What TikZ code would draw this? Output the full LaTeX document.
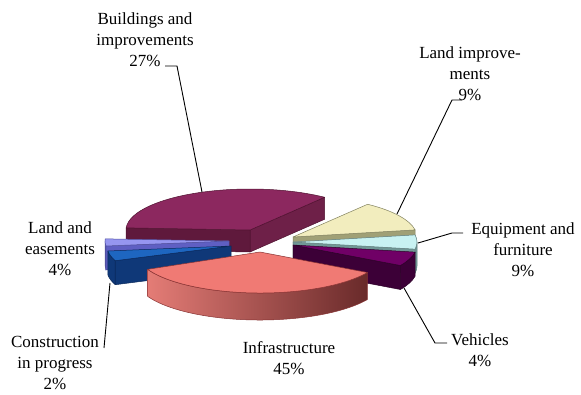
\documentclass[tikz,border=0pt]{standalone}
\usepackage{fontspec}
\setmainfont{Liberation Serif}
\usetikzlibrary{calc}
\definecolor{bTop}{RGB}{140,40,95}
\definecolor{bSide}{RGB}{95,25,60}
\definecolor{bSideR}{RGB}{110,32,72}
\definecolor{bEdge}{RGB}{80,18,48}
\definecolor{liTop}{RGB}{242,237,190}
\definecolor{liSide}{RGB}{160,160,118}
\definecolor{liEdge}{RGB}{130,130,95}
\definecolor{eqTop}{RGB}{200,242,242}
\definecolor{eqSide}{RGB}{112,152,150}
\definecolor{eqEdge}{RGB}{95,125,125}
\definecolor{vTop}{RGB}{112,0,102}
\definecolor{vSide}{RGB}{60,0,55}
\definecolor{vEdge}{RGB}{45,0,40}
\definecolor{inTop}{RGB}{240,122,116}
\definecolor{inSideL}{RGB}{228,124,118}
\definecolor{inSideM}{RGB}{196,98,92}
\definecolor{inSideR}{RGB}{105,42,42}
\definecolor{inEdge}{RGB}{135,50,50}
\definecolor{cTop}{RGB}{30,102,192}
\definecolor{cSide}{RGB}{15,56,120}
\definecolor{cEdge}{RGB}{10,40,90}
\definecolor{leTop}{RGB}{150,150,240}
\definecolor{leSide}{RGB}{95,95,195}
\definecolor{leEdge}{RGB}{80,80,160}
\tikzset{
  lbl/.style={font=\rmfamily\fontsize{17}{21}\selectfont, align=center, inner sep=0pt},
  leader/.style={draw=black, line width=0.9pt},
  face/.style={line width=0.5pt, line join=round}
}
\begin{document}
\begin{tikzpicture}[x=1pt,y=-1pt]
\fill[white] (0,0) rectangle (581,394);
\useasboundingbox (0,0) rectangle (581,394);

% Buildings and improvements
\begin{scope}[shift={(250,230)}]
  \filldraw[face, fill=bSideR, draw=bEdge] (0,0) -- (-53:124 and 41) -- ++(0,22) -- (0,22) -- cycle;
  \filldraw[face, fill=bSide, draw=bEdge] (0,0) -- (-177:124 and 41) -- ++(0,22) -- (0,22) -- cycle;
  \filldraw[face, fill=bTop, draw=bEdge] (0,0) -- (-53:124 and 41) arc[start angle=-53, end angle=-177, x radius=124, y radius=41] -- cycle;
\end{scope}

% Land improvements
\begin{scope}[shift={(293,237)}]
  \filldraw[face, fill=liSide, draw=liEdge] (0,0) -- (-10:124 and 41) -- ++(0,24) -- (0,24) -- cycle;
  \filldraw[face, fill=liTop, draw=liEdge] (0,0) -- (-10:124 and 41) arc[start angle=-10, end angle=-53, x radius=124, y radius=41] -- cycle;
\end{scope}

% Equipment and furniture
\begin{scope}[shift={(293,242)}]
  \filldraw[face, fill=eqSide, draw=eqEdge] (0,0) -- (10:124 and 41) -- ++(0,24) -- (0,24) -- cycle;
  \filldraw[face, fill=eqSide, draw=eqEdge] (10:124 and 41) arc[start angle=10, end angle=0, x radius=124, y radius=41] -- ++(0,24) arc[start angle=0, end angle=10, x radius=124, y radius=41] -- cycle;
  \filldraw[face, fill=eqTop, draw=eqEdge] (0,0) -- (10:124 and 41) arc[start angle=10, end angle=-10, x radius=124, y radius=41] -- cycle;
\end{scope}

% Vehicles
\begin{scope}[shift={(293,245)}]
  \filldraw[face, fill=vSide, draw=vEdge] (0,0) -- (30:124 and 41) -- ++(0,24) -- (0,24) -- cycle;
  \filldraw[face, fill=vSide, draw=vEdge] (30:124 and 41) arc[start angle=30, end angle=10, x radius=124, y radius=41] -- ++(0,24) arc[start angle=10, end angle=30, x radius=124, y radius=41] -- cycle;
  \filldraw[face, fill=vTop, draw=vEdge] (0,0) -- (30:124 and 41) arc[start angle=30, end angle=10, x radius=124, y radius=41] -- cycle;
\end{scope}

% Land and easements
\begin{scope}[shift={(229,241)}]
  \filldraw[face, fill=leSide, draw=leEdge] (0,0) -- (-187:124 and 41) -- ++(0,24) -- (0,24) -- cycle;
  \filldraw[face, fill=leSide, draw=leEdge] (-180:124 and 41) arc[start angle=-180, end angle=-187, x radius=124, y radius=41] -- ++(0,24) arc[start angle=-187, end angle=-180, x radius=124, y radius=41] -- cycle;
  \filldraw[face, fill=leTop, draw=leEdge] (0,0) -- (-177:124 and 41) arc[start angle=-177, end angle=-187, x radius=124, y radius=41] -- cycle;
\end{scope}

% Construction in progress
\begin{scope}[shift={(231,246)}]
  \filldraw[face, fill=cSide, draw=cEdge] (0,0) -- (-201:124 and 41) -- ++(0,24) -- (0,24) -- cycle;
  \filldraw[face, fill=cSide, draw=cEdge] (-187:124 and 41) arc[start angle=-187, end angle=-201, x radius=124, y radius=41] -- ++(0,24) arc[start angle=-201, end angle=-187, x radius=124, y radius=41] -- cycle;
  \filldraw[face, fill=cTop, draw=cEdge] (0,0) -- (-187:124 and 41) arc[start angle=-187, end angle=-201, x radius=124, y radius=41] -- cycle;
\end{scope}

% Infrastructure
\begin{scope}[shift={(260,252)}]
  \shade[left color=inSideL, middle color=inSideM, right color=inSideR] (-205:124 and 41) arc[start angle=-205, end angle=-330, x radius=124, y radius=41] -- ++(0,27) arc[start angle=-330, end angle=-205, x radius=124, y radius=41] -- cycle;
  \draw[face, draw=inEdge] (-205:124 and 41) arc[start angle=-205, end angle=-330, x radius=124, y radius=41] -- ++(0,27) arc[start angle=-330, end angle=-205, x radius=124, y radius=41] -- cycle;
  \filldraw[face, fill=inTop, draw=inEdge] (0,0) -- (-205:124 and 41) arc[start angle=-205, end angle=-330, x radius=124, y radius=41] -- cycle;
\end{scope}

% Labels
\node[lbl] (bLbl) at (145,40) {Buildings and\\improvements\\27\%};
\node[lbl] (liLbl) at (470,74) {Land improve-\\ments\\9\%};
\node[lbl] (eqLbl) at (523,250) {Equipment and\\furniture\\9\%};
\node[lbl] (vLbl) at (480,350) {Vehicles\\4\%};
\node[lbl] (inLbl) at (289,358) {Infrastructure\\45\%};
\node[lbl] (cLbl) at (55,363) {Construction\\in progress\\2\%};
\node[lbl] (leLbl) at (60,249) {Land and\\easements\\4\%};

% Leader coordinates
\coordinate (bA) at (165,66);
\coordinate (bB) at (177,66);
\coordinate (bEnd) at (202,192);
\coordinate (liA) at (462,100);
\coordinate (liB) at (452,100);
\coordinate (liEnd) at (397,214);
\coordinate (eqA) at (463,233);
\coordinate (eqB) at (452,233);
\coordinate (eqEnd) at (418,243);
\coordinate (vA) at (447,343);
\coordinate (vB) at (435,343);
\coordinate (vEnd) at (404,288);
\coordinate (cA) at (104,348);
\coordinate (cEnd) at (110,283);

\draw[leader] (bA) -- (bB) -- (bEnd);
\draw[leader] (liA) -- (liB) -- (liEnd);
\draw[leader] (eqA) -- (eqB) -- (eqEnd);
\draw[leader] (vA) -- (vB) -- (vEnd);
\draw[leader] (cA) -- (cEnd);
\end{tikzpicture}
\end{document}
